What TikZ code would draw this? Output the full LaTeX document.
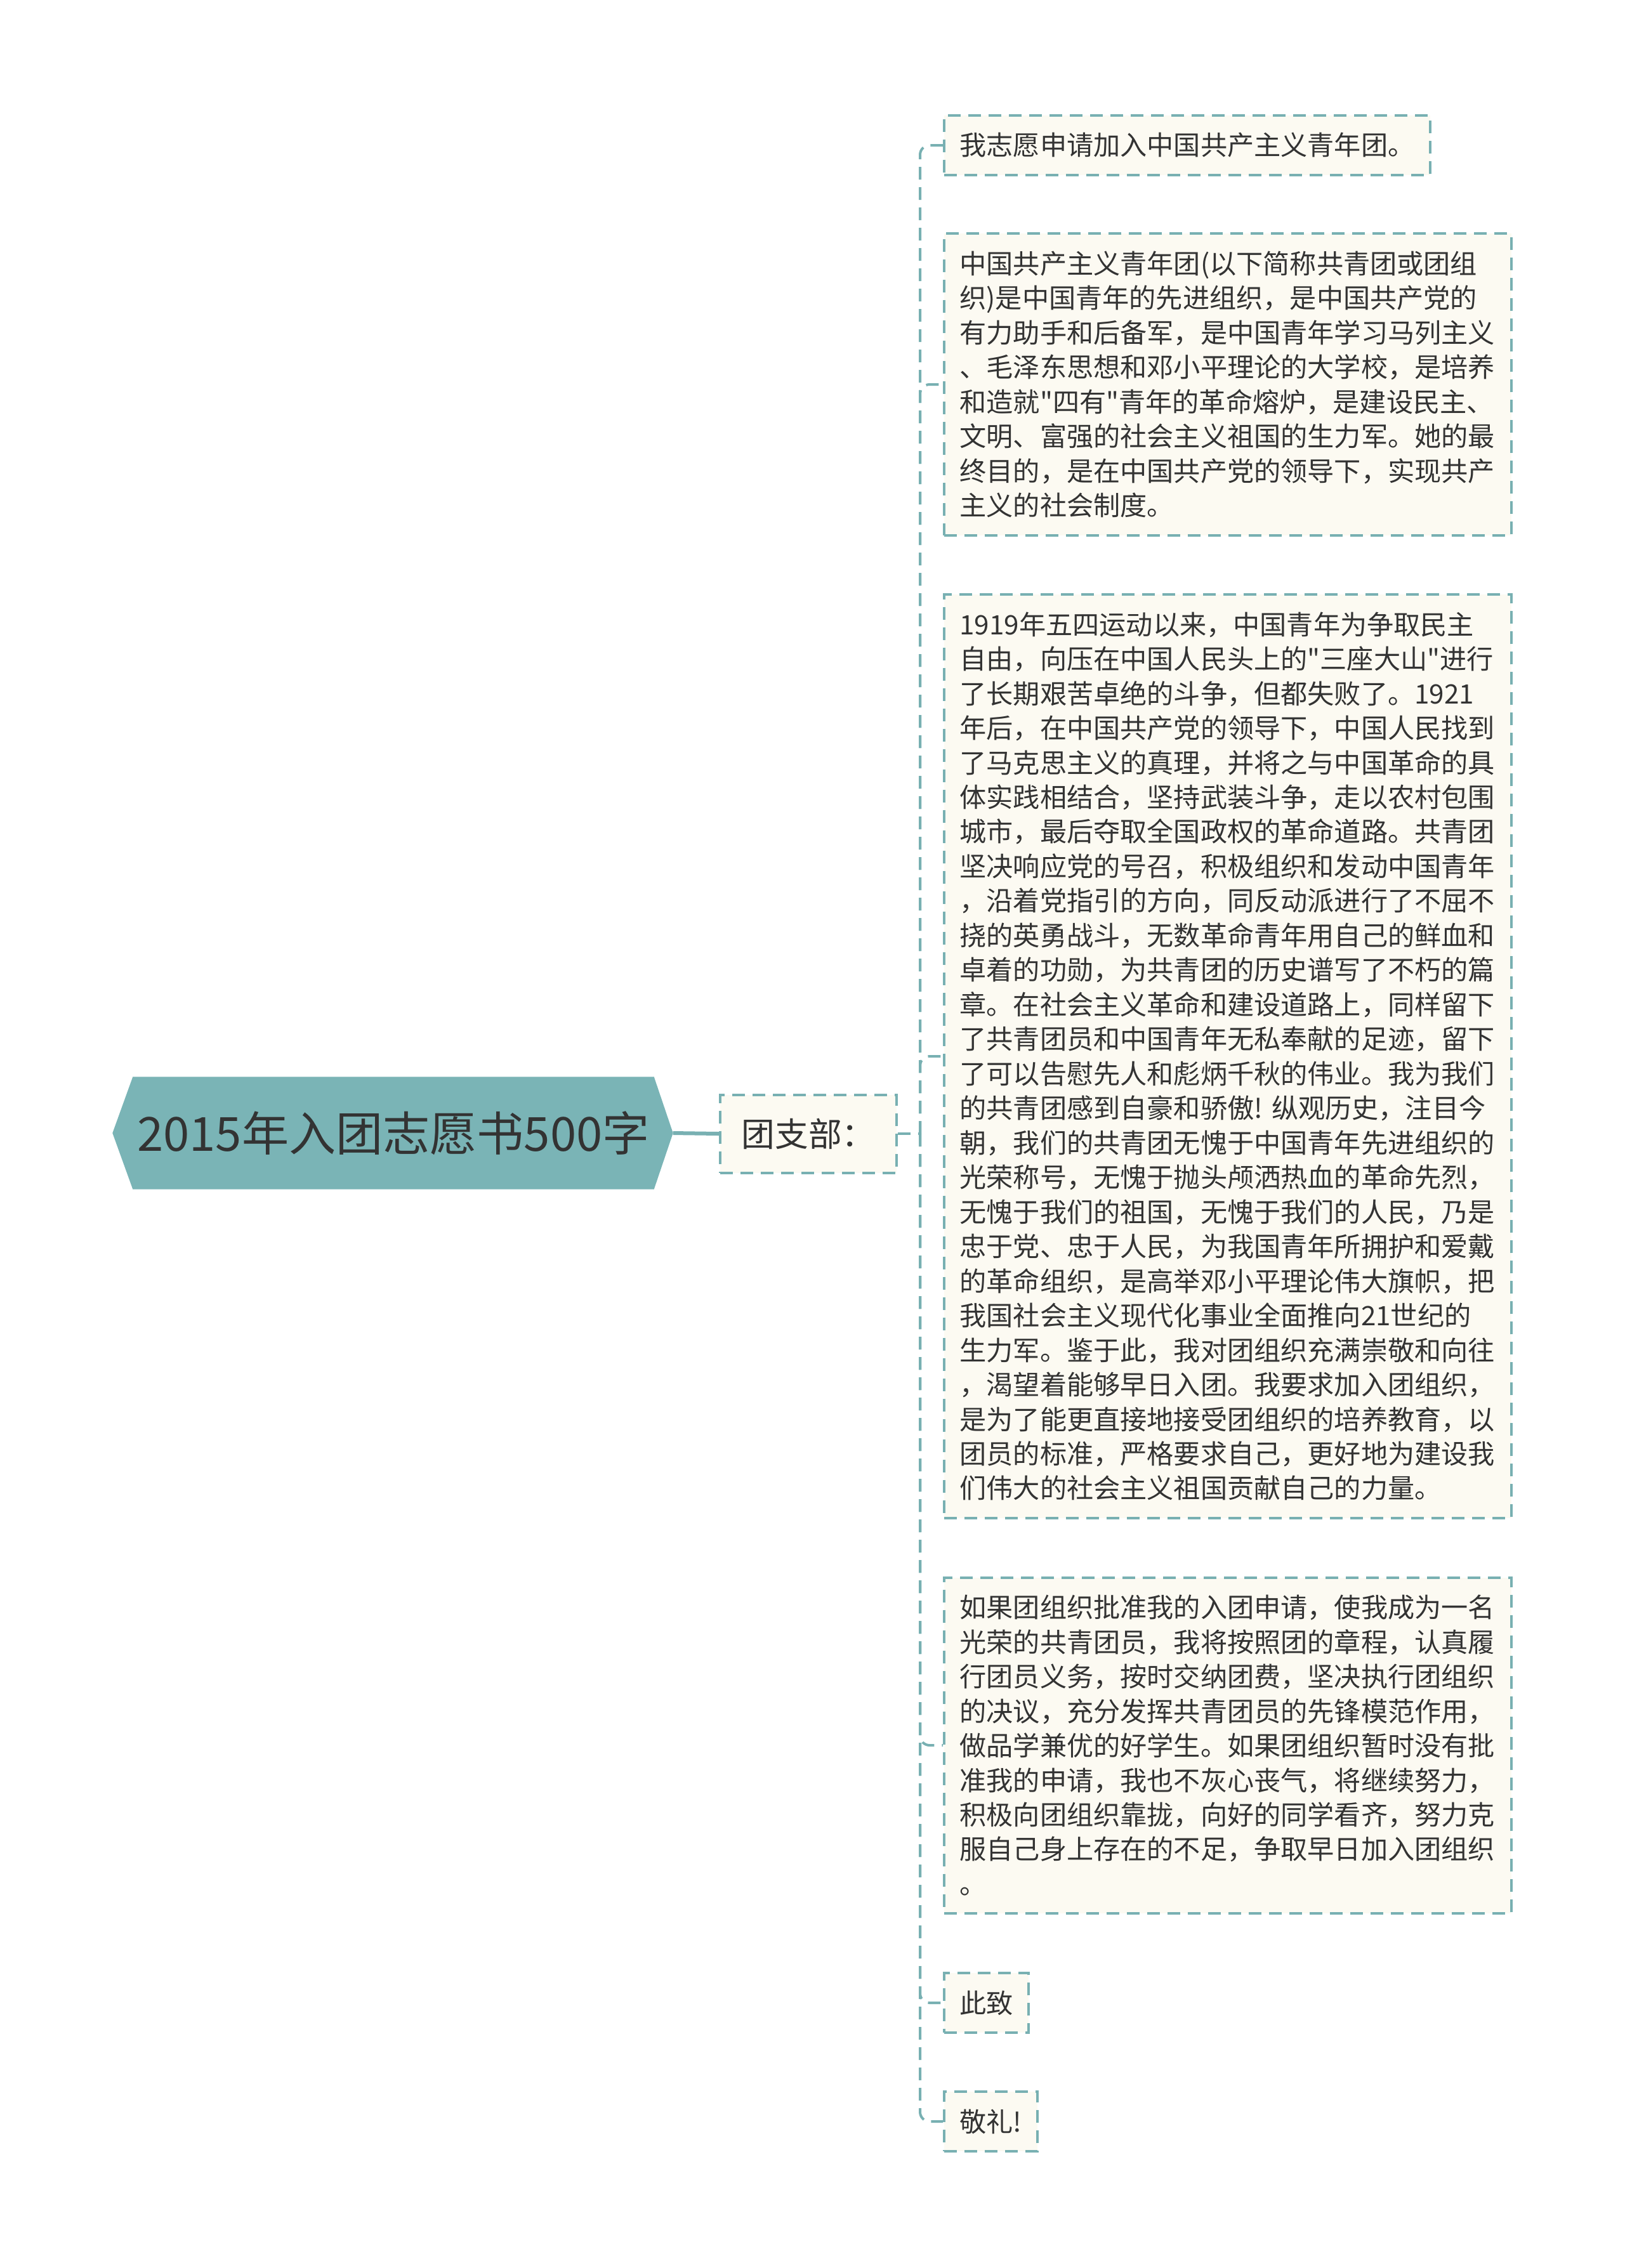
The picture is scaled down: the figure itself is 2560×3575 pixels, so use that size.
\documentclass[tikz,border=0pt]{standalone}
\usepackage{fontspec}
\setmainfont{Noto Sans CJK SC}
\newfontfamily\mapfont{Noto Sans CJK SC}
\usetikzlibrary{backgrounds}

\definecolor{mapline}{HTML}{78B0B2}
\definecolor{mapfill}{HTML}{7AB4B6}
\definecolor{mapcream}{HTML}{FCFAF2}
\definecolor{maptext}{HTML}{333333}

\tikzset{
    rootnode/.style={inner sep=0pt, minimum width=82mm, minimum height=17.6mm,
        text=maptext, font=\mapfont\fontsize{21.1}{25}\selectfont},
    branch/.style={draw=mapline, fill=mapcream, line width=0.4mm,
        dash pattern=on 2mm off 1.2mm, minimum width=27.8mm, minimum height=12.3mm,
        text=maptext, font=\mapfont\fontsize{15}{18}\selectfont},
    leaf/.style={draw=mapline, fill=mapcream, line width=0.4mm,
        dash pattern=on 2mm off 1.2mm, inner xsep=2.45mm, inner ysep=2.75mm,
        anchor=west, text=maptext, font=\mapfont\fontsize{12}{15.5}\selectfont},
    longleaf/.style={leaf, text width=84.5mm, align=left},
    link/.style={draw=mapline, line width=0.4mm, dash pattern=on 2mm off 1.2mm,
        rounded corners=1.5mm},
    stem/.style={draw=mapline, line width=0.6mm},
}

\begin{document}
\begin{tikzpicture}[x=0.1mm, y=-0.1mm]

    \useasboundingbox (0,0) rectangle (2560,3575);

    \node[rootnode] (root) at (620,1786) {2015年入团志愿书500字};
    \begin{scope}[on background layer]
        \fill[mapfill] (root.north west) -- (root.north east) -- ([shift={(30,0)}]root.east)
            -- (root.south east) -- (root.south west) -- ([shift={(-32,0)}]root.west) -- cycle;
    \end{scope}

    \node[branch] (branch) at (1274,1787) {团支部：};

    \node[leaf] (apply) at (1486,229) {我志愿申请加入中国共产主义青年团。};
    \node[longleaf] (league) at (1486,606) {中国共产主义青年团(以下简称共青团或团组\\
        织)是中国青年的先进组织，是中国共产党的\\
        有力助手和后备军，是中国青年学习马列主义\\
        、毛泽东思想和邓小平理论的大学校，是培养\\
        和造就"四有"青年的革命熔炉，是建设民主、\\
        文明、富强的社会主义祖国的生力军。她的最\\
        终目的，是在中国共产党的领导下，实现共产\\
        主义的社会制度。};
    \node[longleaf] (history) at (1486,1665) {1919年五四运动以来，中国青年为争取民主\\
        自由，向压在中国人民头上的"三座大山"进行\\
        了长期艰苦卓绝的斗争，但都失败了。1921\\
        年后，在中国共产党的领导下，中国人民找到\\
        了马克思主义的真理，并将之与中国革命的具\\
        体实践相结合，坚持武装斗争，走以农村包围\\
        城市，最后夺取全国政权的革命道路。共青团\\
        坚决响应党的号召，积极组织和发动中国青年\\
        ，沿着党指引的方向，同反动派进行了不屈不\\
        挠的英勇战斗，无数革命青年用自己的鲜血和\\
        卓着的功勋，为共青团的历史谱写了不朽的篇\\
        章。在社会主义革命和建设道路上，同样留下\\
        了共青团员和中国青年无私奉献的足迹，留下\\
        了可以告慰先人和彪炳千秋的伟业。我为我们\\
        的共青团感到自豪和骄傲!~纵观历史，注目今\\
        朝，我们的共青团无愧于中国青年先进组织的\\
        光荣称号，无愧于抛头颅洒热血的革命先烈，\\
        无愧于我们的祖国，无愧于我们的人民，乃是\\
        忠于党、忠于人民，为我国青年所拥护和爱戴\\
        的革命组织，是高举邓小平理论伟大旗帜，把\\
        我国社会主义现代化事业全面推向21世纪的\\
        生力军。鉴于此，我对团组织充满崇敬和向往\\
        ，渴望着能够早日入团。我要求加入团组织，\\
        是为了能更直接地接受团组织的培养教育，以\\
        团员的标准，严格要求自己，更好地为建设我\\
        们伟大的社会主义祖国贡献自己的力量。};
    \node[longleaf] (promise) at (1486,2751) {如果团组织批准我的入团申请，使我成为一名\\
        光荣的共青团员，我将按照团的章程，认真履\\
        行团员义务，按时交纳团费，坚决执行团组织\\
        的决议，充分发挥共青团员的先锋模范作用，\\
        做品学兼优的好学生。如果团组织暂时没有批\\
        准我的申请，我也不灰心丧气，将继续努力，\\
        积极向团组织靠拢，向好的同学看齐，努力克\\
        服自己身上存在的不足，争取早日加入团组织\\
        。};
    \node[leaf] (regards) at (1486,3157) {此致};
    \node[leaf] (salute) at (1486,3344) {敬礼!};

    \coordinate (fork) at (1450,1787);

    \draw[stem] ([shift={(30,0)}]root.east) -- (branch.west);
    \draw[link] (branch.east) -- (fork);

    \draw[link] (fork) |- (apply.west);
    \draw[link] (fork) |- (league.west);
    \draw[link] (fork) |- (history.west);
    \draw[link] (fork) |- (promise.west);
    \draw[link] (fork) |- (regards.west);
    \draw[link] (fork) |- (salute.west);

\end{tikzpicture}
\end{document}
